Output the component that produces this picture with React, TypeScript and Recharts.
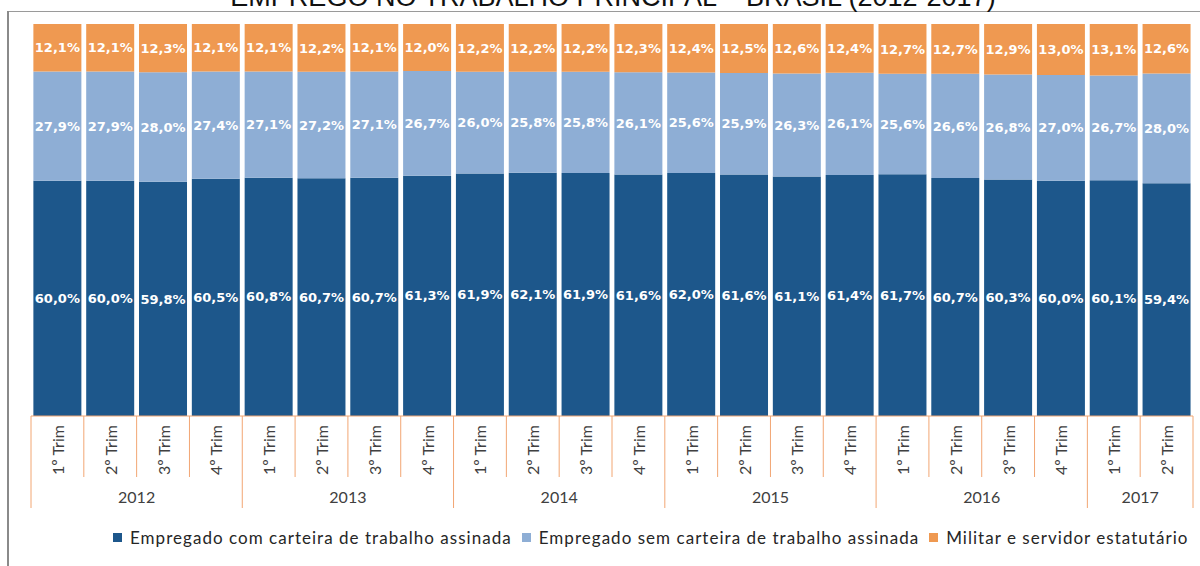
import { BarChart, Bar, XAxis, YAxis, LabelList, Legend } from 'recharts';

const quarters = [
  '1º Trim', '2º Trim', '3º Trim', '4º Trim',
  '1º Trim', '2º Trim', '3º Trim', '4º Trim',
  '1º Trim', '2º Trim', '3º Trim', '4º Trim',
  '1º Trim', '2º Trim', '3º Trim', '4º Trim',
  '1º Trim', '2º Trim', '3º Trim', '4º Trim',
  '1º Trim', '2º Trim',
];
const years = [
  '2012', '2012', '2012', '2012',
  '2013', '2013', '2013', '2013',
  '2014', '2014', '2014', '2014',
  '2015', '2015', '2015', '2015',
  '2016', '2016', '2016', '2016',
  '2017', '2017',
];
const comCarteira = [60.0, 60.0, 59.8, 60.5, 60.8, 60.7, 60.7, 61.3, 61.9, 62.1, 61.9, 61.6, 62.0, 61.6, 61.1, 61.4, 61.7, 60.7, 60.3, 60.0, 60.1, 59.4];
const semCarteira = [27.9, 27.9, 28.0, 27.4, 27.1, 27.2, 27.1, 26.7, 26.0, 25.8, 25.8, 26.1, 25.6, 25.9, 26.3, 26.1, 25.6, 26.6, 26.8, 27.0, 26.7, 28.0];
const militar = [12.1, 12.1, 12.3, 12.1, 12.1, 12.2, 12.1, 12.0, 12.2, 12.2, 12.2, 12.3, 12.4, 12.5, 12.6, 12.4, 12.7, 12.7, 12.9, 13.0, 13.1, 12.6];

const data = quarters.map((q, i) => ({
  key: `${years[i]}-${q}`,
  q,
  year: years[i],
  com: comCarteira[i],
  sem: semCarteira[i],
  mil: militar[i],
}));

const W = 1200;
const H = 566;
const margin = { top: 24, right: 7, left: 31, bottom: 0 };
const band = (W - margin.left - margin.right) / data.length;
const sepColor = '#F2A673';
const axisText = '#404040';

const series = [
  { key: 'com', name: 'Empregado com carteira de trabalho assinada', color: '#1D578B' },
  { key: 'sem', name: 'Empregado sem carteira de trabalho assinada', color: '#8EAED5' },
  { key: 'mil', name: 'Militar e servidor estatutário', color: '#EF9951' },
];

const fmt = (v: any) => `${Number(v).toFixed(1).replace('.', ',')}%`;

function QuarterTick(props: any) {
  const { x, y, payload } = props;
  const i = payload.index;
  const row = data[i];
  const firstOfYear = i === 0 || data[i - 1].year !== row.year;
  const last = i === data.length - 1;
  const groupSize = data.filter((d) => d.year === row.year).length;
  const left = x - band / 2;
  return (
    <g>
      <line x1={left} y1={y} x2={left} y2={y + (firstOfYear ? 92 : 61)} stroke={sepColor} strokeWidth={1} />
      {last && <line x1={left + band} y1={y} x2={left + band} y2={y + 92} stroke={sepColor} strokeWidth={1} />}
      <text
        x={x}
        y={y + 34}
        transform={`rotate(-90, ${x}, ${y + 34})`}
        textAnchor="middle"
        dominantBaseline="central"
        fontFamily="Lato, sans-serif"
        fontSize={16}
        fill={axisText}
      >
        {row.q}
      </text>
      {firstOfYear && (
        <text
          x={left + (groupSize * band) / 2}
          y={y + 80}
          textAnchor="middle"
          dominantBaseline="central"
          fontFamily="Lato, sans-serif"
          fontSize={16}
          fill={axisText}
        >
          {row.year}
        </text>
      )}
    </g>
  );
}

function LegendContent() {
  return (
    <div style={{ display: 'flex', alignItems: 'center', paddingLeft: 113, fontFamily: 'Lato, sans-serif', fontSize: 17, letterSpacing: 1.03, color: '#262626' }}>
      {series.map((s) => (
        <div key={s.key} style={{ display: 'flex', alignItems: 'center', marginRight: 10 }}>
          <span style={{ width: 9, height: 9, background: s.color, display: 'inline-block', marginRight: 8 }} />
          <span style={{ whiteSpace: 'nowrap' }}>{s.name}</span>
        </div>
      ))}
    </div>
  );
}

export default function App() {
  return (
    <div style={{ position: 'absolute', left: 0, top: 0, width: W, height: H, background: '#fff' }}>
      <BarChart width={W} height={H} data={data} margin={margin} stackOffset="expand" barCategoryGap="4.5%">
        <XAxis
          dataKey="key"
          height={150}
          interval={0}
          tickSize={0}
          tickMargin={0}
          tickLine={false}
          axisLine={{ stroke: sepColor }}
          tick={<QuarterTick />}
        />
        <YAxis hide domain={[0, 1]} />
        <Legend
          layout="horizontal"
          verticalAlign="middle"
          align="center"
          content={<LegendContent />}
          wrapperStyle={{ top: 527, left: 0, width: W, height: 22 }}
        />
        {series.map((s) => (
          <Bar key={s.key} dataKey={s.key} name={s.name} stackId="a" fill={s.color} isAnimationActive={false}>
            <LabelList
              dataKey={s.key}
              position="center"
              formatter={fmt}
              fill="#ffffff"
              fontFamily="'DejaVu Sans', Verdana, sans-serif"
              fontWeight="bold"
              fontSize={13}
            />
          </Bar>
        ))}
      </BarChart>
      <svg width={W} height={H} style={{ position: 'absolute', left: 0, top: 0, pointerEvents: 'none' }}>
        <line x1={8} y1={11.5} x2={W} y2={11.5} stroke="#9a9a9a" strokeWidth={1} />
        <line x1={8} y1={11} x2={8} y2={H} stroke="#8a8a8a" strokeWidth={2} />
        <text x={613} y={6} textAnchor="middle" fontFamily="'Liberation Sans', Arial, sans-serif" fontSize={27} fill="#111">
          EMPREGO NO TRABALHO PRINCIPAL – BRASIL (2012-2017)
        </text>
      </svg>
    </div>
  );
}
